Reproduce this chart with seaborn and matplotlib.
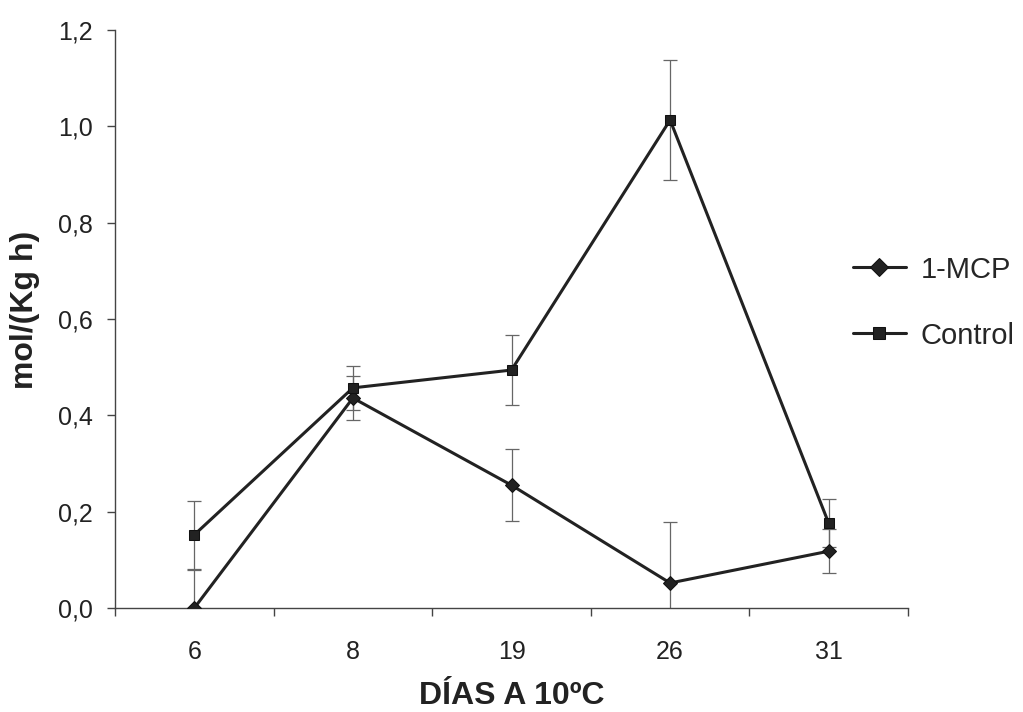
import matplotlib
matplotlib.use("Agg")
import matplotlib.pyplot as plt
import seaborn as sns
import pandas as pd
import numpy as np
from matplotlib.ticker import FixedLocator, FuncFormatter

days = ["6", "8", "19", "26", "31"]
mcp_vals = [0.0, 0.436, 0.255, 0.052, 0.118]
mcp_err = [0.08, 0.046, 0.075, 0.126, 0.046]
ctrl_vals = [0.152, 0.457, 0.494, 1.013, 0.176]
ctrl_err = [0.07, 0.045, 0.073, 0.124, 0.05]
series_names = ["1-MCP", "Control"]
y_ticks = [0.0, 0.2, 0.4, 0.6, 0.8, 1.0, 1.2]

sns.set_theme(style="white")
plt.rcParams['font.family'] = ['Liberation Sans', 'DejaVu Sans']

pos = list(range(len(days)))
df = pd.DataFrame({
    "pos": pos * 2,
    "val": mcp_vals + ctrl_vals,
    "serie": [series_names[0]] * len(days) + [series_names[1]] * len(days),
})

fig = plt.figure(figsize=(10.23, 7.12), dpi=100)
ax = fig.add_axes([0.1124, 0.146, 0.7752, 0.812])

for vals, errs in [(mcp_vals, mcp_err), (ctrl_vals, ctrl_err)]:
    ax.errorbar(pos, vals, yerr=errs, fmt="none", ecolor="#666666",
                elinewidth=0.9, capsize=5, capthick=0.9, zorder=2)

sns.lineplot(data=df, x="pos", y="val", hue="serie", style="serie",
             markers={"1-MCP": "D", "Control": "s"}, dashes=False,
             palette={"1-MCP": "#222222", "Control": "#222222"},
             linewidth=2.2, markersize=7, markeredgecolor="#111111",
             ax=ax, zorder=3)

ax.set_xlim(-0.5, len(days) - 0.5)
ax.set_ylim(0, 1.2)
ax.yaxis.set_major_locator(FixedLocator(y_ticks))
ax.yaxis.set_major_formatter(FuncFormatter(lambda v, p: f"{v:.1f}".replace(".", ",")))
ax.set_xticks(pos)
ax.set_xticklabels(days)
ax.set_xticks([p - 0.5 for p in pos] + [len(days) - 0.5], minor=True)
ax.tick_params(axis="x", which="major", length=0, pad=23, labelsize=18, colors="#222222")
ax.tick_params(axis="x", which="minor", length=6, direction="out", width=1, color="#444444", bottom=True)
ax.tick_params(axis="y", which="major", length=6, direction="out", width=1, color="#444444",
               left=True, labelsize=18, pad=10, labelcolor="#222222")

for s in ["top", "right"]:
    ax.spines[s].set_visible(False)
for s in ["left", "bottom"]:
    ax.spines[s].set_color("#444444")
    ax.spines[s].set_linewidth(1)

ax.set_xlabel("DÍAS A 10ºC", fontsize=23, fontweight="bold", labelpad=12, color="#222222")
ax.set_ylabel("mol/(Kg h)", fontsize=23, fontweight="bold", labelpad=12, color="#222222")
ax.yaxis.set_label_coords(-0.095, 0.515)

handles, labels = ax.get_legend_handles_labels()
for h in handles:
    h.set_markersize(9)
ax.legend(handles, labels, loc="center left", bbox_to_anchor=(0.834, 0.575),
          bbox_transform=fig.transFigure, frameon=False, fontsize=21,
          handlelength=1.8, handletextpad=0.5, labelspacing=1.3,
          borderpad=0, borderaxespad=0)

fig.savefig("out.png", dpi=100)
